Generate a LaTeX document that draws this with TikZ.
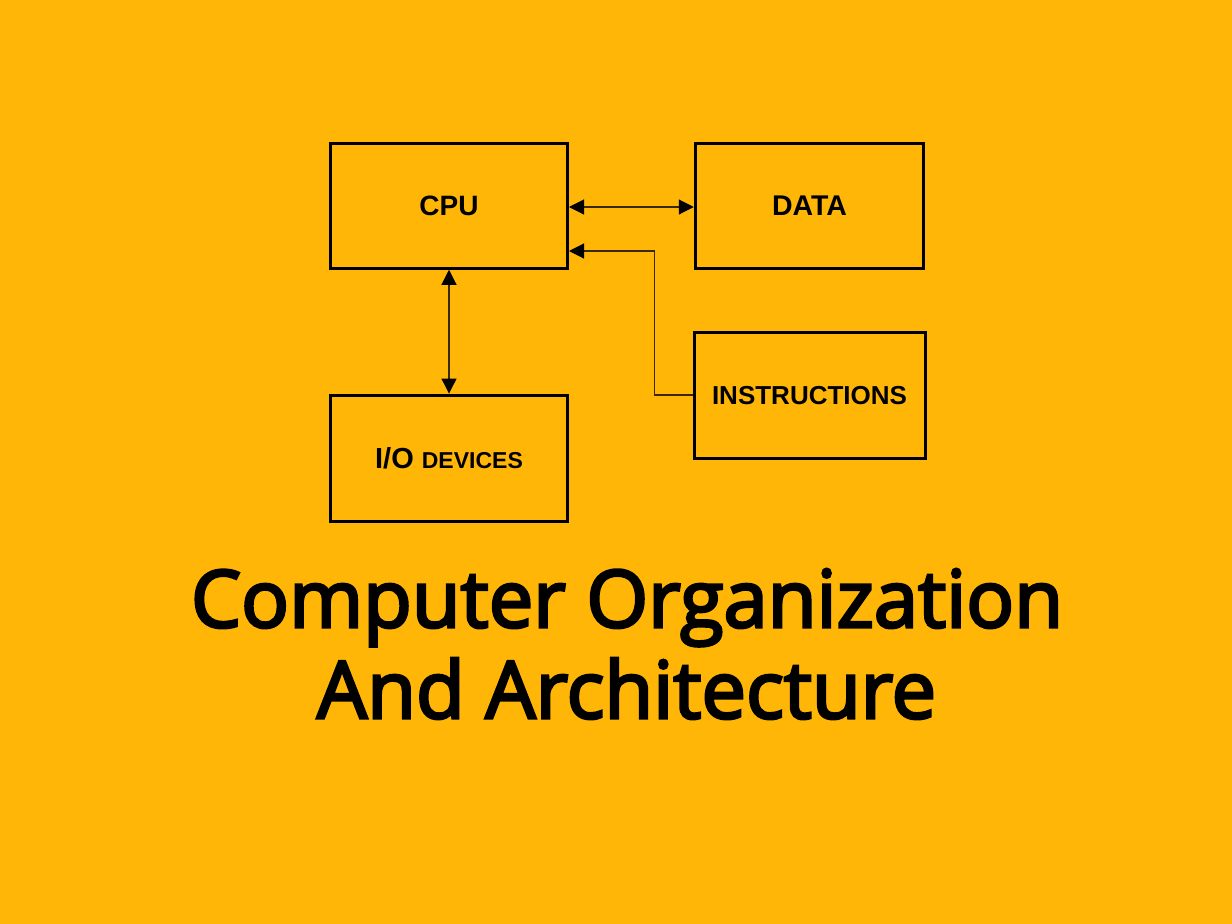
\documentclass[tikz,border=0pt]{standalone}
\usepackage{fontspec}
\setmainfont{Liberation Sans}
\newfontfamily\titlefont{Open Sans}[FakeBold=3.5]
\usetikzlibrary{arrows.meta}
\definecolor{bgc}{HTML}{FFB606}
\definecolor{linec}{HTML}{3A2800}
\begin{document}
\begin{tikzpicture}[x=1pt,y=-1pt,
  blk/.style={draw=black,line width=3pt,rectangle,inner sep=0pt,font=\bfseries},
  conn/.style={draw=linec,line width=1.1pt},
  tip/.style={-{Triangle[length=15pt,width=15pt,color=black]}},
  dtip/.style={{Triangle[length=15pt,width=15pt,color=black]}-{Triangle[length=15pt,width=15pt,color=black]}},
  ttl/.style={anchor=base,inner sep=0pt,font=\titlefont\fontsize{79.5}{79.5}\selectfont}]
\fill[bgc] (0,0) rectangle (1232,924);
\useasboundingbox (0,0) rectangle (1232,924);
\node[blk,minimum width=237pt,minimum height=124.5pt,font=\bfseries\fontsize{28}{28}\selectfont] (cpu) at (449,206) {CPU};
\node[blk,minimum width=228.5pt,minimum height=124.5pt,font=\bfseries\fontsize{28.5}{28.5}\selectfont] (data) at (809.5,206) {DATA};
\node[blk,minimum width=231pt,minimum height=126.5pt,font=\bfseries\fontsize{26}{26}\selectfont] (instr) at (809.5,395.3) {INSTRUCTIONS};
\node[blk,minimum width=237pt,minimum height=126.5pt,font=\bfseries\fontsize{29}{29}\selectfont] (io) at (449,458.3) {I/O {\fontsize{23}{23}\selectfont DEVICES}};
\coordinate (bend1) at (654.5,395);
\coordinate (bend2) at (654.5,251);
\draw[conn,dtip] (cpu.east |- 0,207) -- (data.west |- 0,207);
\draw[conn,dtip] (cpu.south) -- (io.north);
\draw[conn,tip] (instr.west |- bend1) -- (bend1) -- (bend2) -- (cpu.east |- bend2);
\node[ttl] (t1) at (627,627.3) {Computer Organization};
\node[ttl] (t2) at (626.5,718.3) {And Architecture};
\end{tikzpicture}
\end{document}
